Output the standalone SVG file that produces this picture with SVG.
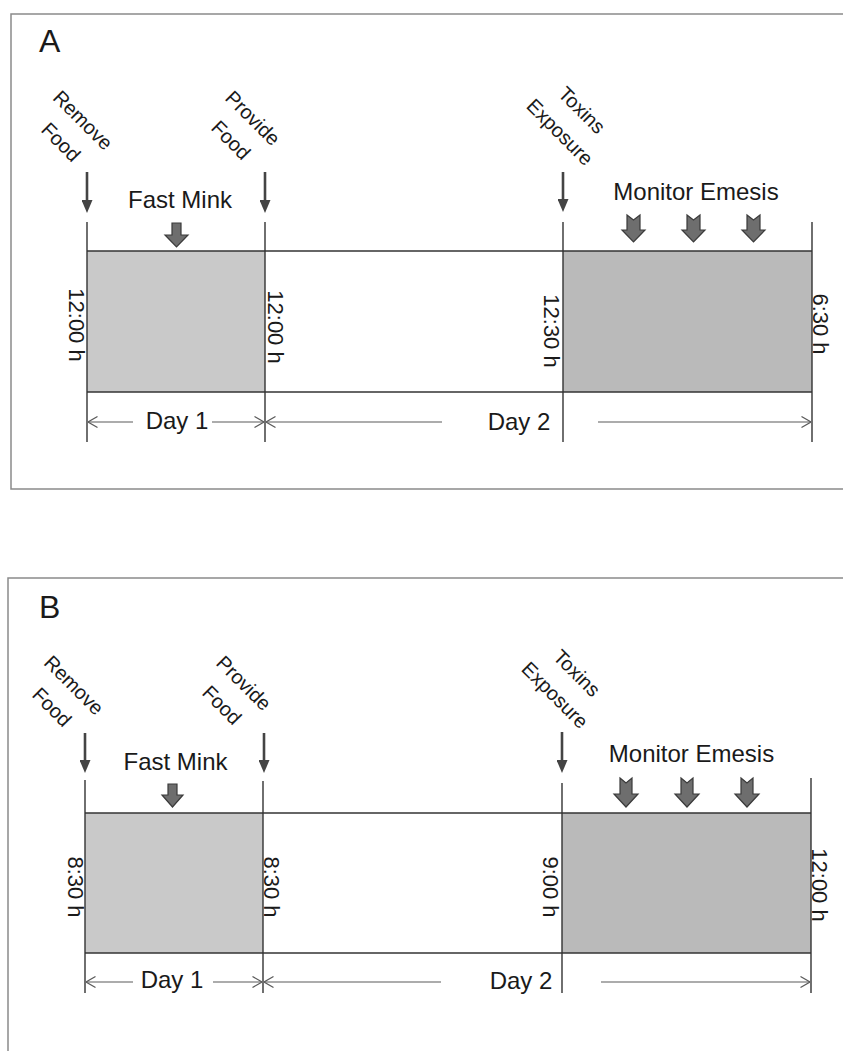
<svg xmlns="http://www.w3.org/2000/svg" width="843" height="1051" viewBox="0 0 843 1051">
<style>
.frame{fill:none;stroke:#8a8a8a;stroke-width:1.5}
.t{font-family:"Liberation Sans",Arial,sans-serif;fill:#1a1a1a}
.big{font-size:32px}
.lab{font-size:24px}
.rot{font-size:20px}
.tm{font-size:22px}
.day{font-size:24px}
.shadeL{fill:#c9c9c9}
.shadeR{fill:#bababa}
.hl{stroke:#333;stroke-width:1.6;fill:none}
.vl{stroke:#333;stroke-width:1.4;fill:none}
.dayline{stroke:#5a5a5a;stroke-width:1.2;fill:none;marker-end:url(#chev)}
.drop{stroke:#444;stroke-width:2.6;fill:none;marker-end:url(#tri)}
.fat{fill:#6e6e6e;stroke:#3a3a3a;stroke-width:1.2}
</style>
<defs>
<marker id="chev" viewBox="0 0 10 12" refX="10" refY="6" markerWidth="10" markerHeight="12" markerUnits="userSpaceOnUse" orient="auto">
<path d="M0.5,0.5 L10,6 L0.5,11.5" fill="none" stroke="#5a5a5a" stroke-width="1.2"/>
</marker>
<marker id="tri" viewBox="0 0 13 11" refX="0" refY="5.5" markerWidth="13" markerHeight="11" markerUnits="userSpaceOnUse" orient="auto">
<path d="M0,0 L13,5.5 L0,11 z" fill="#444"/>
</marker>
</defs>

<!-- ================= PANEL A ================= -->
<g id="panel-a-frame"><rect class="frame" x="11" y="14" width="850" height="475"/></g>
<g id="panel-a-letter"><text class="t big" x="39" y="52">A</text></g>

<g id="a-fast-period"><rect class="shadeL" x="87" y="251" width="178" height="141"/></g>
<g id="a-monitor-period"><rect class="shadeR" x="563" y="251" width="249" height="141"/></g>

<g id="a-remove-food"><text class="t rot" text-anchor="middle" transform="translate(78,125) rotate(45)"><tspan x="0" y="0">Remove</tspan><tspan x="0" y="31">Food</tspan></text></g>
<g id="a-provide-food"><text class="t rot" text-anchor="middle" transform="translate(248,123) rotate(45)"><tspan x="0" y="0">Provide</tspan><tspan x="0" y="31">Food</tspan></text></g>
<g id="a-toxins"><text class="t rot" text-anchor="middle" transform="translate(577,115) rotate(45)"><tspan x="0" y="0">Toxins</tspan><tspan x="0" y="31">Exposure</tspan></text></g>
<g id="a-fast-mink"><text class="t lab" text-anchor="middle" x="180" y="208">Fast Mink</text></g>
<g id="a-monitor"><text class="t lab" text-anchor="middle" x="696" y="200">Monitor Emesis</text></g>

<g id="a-times">
<text class="t tm" text-anchor="middle" transform="translate(69,325) rotate(90)">12:00 h</text>
<text class="t tm" text-anchor="middle" transform="translate(268,327) rotate(90)">12:00 h</text>
<text class="t tm" text-anchor="middle" transform="translate(544,331) rotate(90)">12:30 h</text>
<text class="t tm" text-anchor="middle" transform="translate(813,324) rotate(90)">6:30 h</text>
</g>
<g id="a-day1"><text class="t day" text-anchor="middle" x="177" y="429">Day 1</text></g>
<g id="a-day2"><text class="t day" text-anchor="middle" x="519" y="430">Day 2</text></g>

<!-- ================= PANEL B ================= -->
<g id="panel-b-frame"><rect class="frame" x="8" y="578" width="850" height="500"/></g>
<g id="panel-b-letter"><text class="t big" x="39" y="618">B</text></g>

<g id="b-fast-period"><rect class="shadeL" x="85" y="813" width="178" height="140"/></g>
<g id="b-monitor-period"><rect class="shadeR" x="562" y="813" width="249" height="140"/></g>

<g id="b-remove-food"><text class="t rot" text-anchor="middle" transform="translate(69,690) rotate(45)"><tspan x="0" y="0">Remove</tspan><tspan x="0" y="31">Food</tspan></text></g>
<g id="b-provide-food"><text class="t rot" text-anchor="middle" transform="translate(239,688) rotate(45)"><tspan x="0" y="0">Provide</tspan><tspan x="0" y="31">Food</tspan></text></g>
<g id="b-toxins"><text class="t rot" text-anchor="middle" transform="translate(572,678) rotate(45)"><tspan x="0" y="0">Toxins</tspan><tspan x="0" y="31">Exposure</tspan></text></g>
<g id="b-fast-mink"><text class="t lab" text-anchor="middle" x="175.5" y="770">Fast Mink</text></g>
<g id="b-monitor"><text class="t lab" text-anchor="middle" x="691.5" y="762">Monitor Emesis</text></g>

<g id="b-times">
<text class="t tm" text-anchor="middle" transform="translate(68,887) rotate(90)">8:30 h</text>
<text class="t tm" text-anchor="middle" transform="translate(264,887) rotate(90)">8:30 h</text>
<text class="t tm" text-anchor="middle" transform="translate(543,887) rotate(90)">9:00 h</text>
<text class="t tm" text-anchor="middle" transform="translate(812,885) rotate(90)">12:00 h</text>
</g>
<g id="b-day1"><text class="t day" text-anchor="middle" x="172" y="988">Day 1</text></g>
<g id="b-day2"><text class="t day" text-anchor="middle" x="521" y="989">Day 2</text></g>

<!-- ================= CONNECTORS ================= -->
<g id="connectors">
<!-- panel A timeline lines -->
<line class="hl" x1="87" y1="251" x2="812" y2="251"/>
<line class="hl" x1="87" y1="392" x2="812" y2="392"/>
<line class="vl" x1="87" y1="222" x2="87" y2="442"/>
<line class="vl" x1="265" y1="222" x2="265" y2="442"/>
<line class="vl" x1="563" y1="222" x2="563" y2="442"/>
<line class="vl" x1="812" y1="222" x2="812" y2="442"/>
<!-- panel A day arrows -->
<line class="dayline" x1="133" y1="422" x2="88" y2="422"/>
<line class="dayline" x1="212" y1="422" x2="264" y2="422"/>
<line class="dayline" x1="442" y1="422" x2="266" y2="422"/>
<line class="dayline" x1="598" y1="422" x2="811" y2="422"/>
<!-- panel A drop arrows -->
<line class="drop" x1="87" y1="172" x2="87" y2="200"/>
<line class="drop" x1="265" y1="172" x2="265" y2="200"/>
<line class="drop" x1="563" y1="172" x2="563" y2="199"/>
<!-- panel A block arrows -->
<polygon class="fat" points="172,223 181,223 181,235 188,235 176.5,247 165,235 172,235"/>
<polygon class="fat" points="627,215 633.5,220 640,215 640,230 645,230 633.5,242 622,230 627,230"/>
<polygon class="fat" points="687,215 693.5,220 700,215 700,230 705,230 693.5,242 682,230 687,230"/>
<polygon class="fat" points="747,215 753.5,220 760,215 760,230 765,230 753.5,242 742,230 747,230"/>

<!-- panel B timeline lines -->
<line class="hl" x1="85" y1="813" x2="811" y2="813"/>
<line class="hl" x1="85" y1="953" x2="811" y2="953"/>
<line class="vl" x1="85" y1="780" x2="85" y2="993"/>
<line class="vl" x1="263" y1="781" x2="263" y2="993"/>
<line class="vl" x1="562" y1="783" x2="562" y2="993"/>
<line class="vl" x1="811" y1="778" x2="811" y2="993"/>
<!-- panel B day arrows -->
<line class="dayline" x1="133" y1="982" x2="86" y2="982"/>
<line class="dayline" x1="213" y1="982" x2="262" y2="982"/>
<line class="dayline" x1="441" y1="982" x2="264" y2="982"/>
<line class="dayline" x1="601" y1="982" x2="810" y2="982"/>
<!-- panel B drop arrows -->
<line class="drop" x1="85" y1="733" x2="85" y2="760"/>
<line class="drop" x1="264" y1="733" x2="264" y2="760"/>
<line class="drop" x1="562" y1="732" x2="562" y2="760"/>
<!-- panel B block arrows -->
<polygon class="fat" points="168,784 177,784 177,795 183,795 172.5,807 162,795 168,795"/>
<polygon class="fat" points="620,778 626,783 632,778 632,794 638,794 626,807 614,794 620,794"/>
<polygon class="fat" points="681,778 687,783 693,778 693,794 699,794 687,807 675,794 681,794"/>
<polygon class="fat" points="741,778 747,783 753,778 753,794 759,794 747,807 735,794 741,794"/>
</g>
</svg>
